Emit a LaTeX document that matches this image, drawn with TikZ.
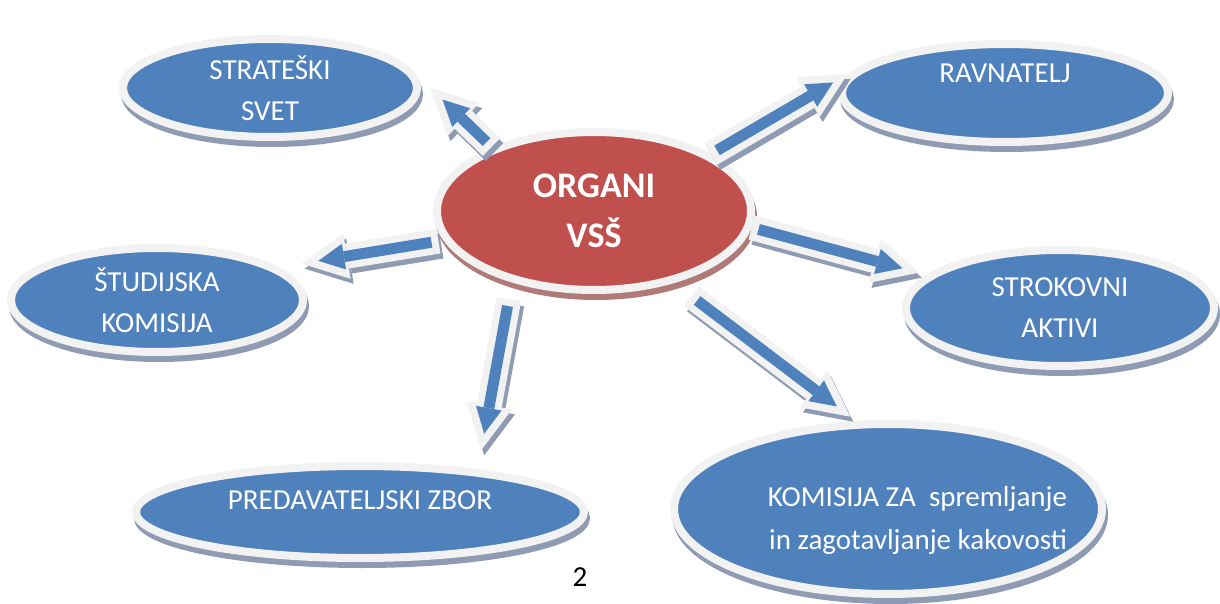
\documentclass[tikz,border=0pt]{standalone}
\usepackage{fontspec}
\setmainfont{Carlito}
\usepackage{tikz}
\usetikzlibrary{arrows.meta,shapes}
\definecolor{ovalblue}{HTML}{4F81BD}
\definecolor{ovalred}{HTML}{C0504D}
\definecolor{rimgray}{HTML}{F2F2F2}
\definecolor{shadeblue}{HTML}{8E9BB3}
\definecolor{shadered}{HTML}{B07A78}

\begin{document}
\begin{tikzpicture}[x=1pt,y=-1pt,
  basic/.style={ellipse,inner sep=0pt,draw=rimgray,line width=8pt,text=white,align=center},
  oval/.style={basic,fill=ovalblue,font=\fontsize{29}{41}\selectfont,
    preaction={fill=shadeblue,draw=shadeblue,transform canvas={shift={(2pt,-6pt)}}}},
  hub/.style={basic,fill=ovalred,font=\bfseries\fontsize{36}{50}\selectfont,
    preaction={fill=shadered,draw=shadered,transform canvas={shift={(2pt,-6pt)}}}},
  fat/.style 2 args={
    preaction={draw=shadeblue,line width=25pt,shorten <=#1,shorten >=#2,
      -{Triangle[length=46pt,width=46pt,line width=0pt]},transform canvas={shift={(3pt,-5pt)}}},
    preaction={draw=rimgray,line width=25pt,shorten <=#1,shorten >=#2,
      -{Triangle[length=46pt,width=46pt,line width=0pt]}},
    draw=ovalblue,line width=11pt,shorten <=#1+7pt,shorten >=#2+17pt,
    -{Triangle[length=26pt,width=26pt,line width=0pt]}}]

  \useasboundingbox (0,0) rectangle (1220,604);

  \node[hub] (org) at (594,211) [minimum width=314pt,minimum height=158pt] {ORGANI\\VSŠ};
  \node[oval] (stra) at (270,88) [minimum width=294pt,minimum height=98pt] {STRATEŠKI\\SVET};
  \node[oval] (rav) at (1005,93) [minimum width=326pt,minimum height=98pt,text depth=40pt] {RAVNATELJ};
  \node[oval] (stud) at (157,300) [minimum width=292pt,minimum height=104pt] {ŠTUDIJSKA\\KOMISIJA};
  \node[oval] (stro) at (1060,308) [minimum width=308pt,minimum height=116pt] {STROKOVNI\\AKTIVI};
  \node[oval] (pred) at (360,512) [minimum width=448pt,minimum height=92pt,text height=19pt,text depth=24pt] {PREDAVATELJSKI ZBOR};
  \node[oval] (kom) at (888,509) [minimum width=428pt,minimum height=170pt,font=\fontsize{29}{43}\selectfont,
    text width=358pt,align=flush right,inner xsep=-50pt,text depth=26pt] {KOMISIJA ZA\ \ spremljanje\\in zagotavljanje kakovosti};
  \node (pg) at (580,577) [font=\fontsize{29}{35}\selectfont] {2};

  \path
    (org.148) edge[fat={0pt}{28pt}] (stra.8)
    (org.26)  edge[fat={0pt}{13pt}] (rav.170)
    (org.191) edge[fat={5pt}{23pt}] (stud.15)
    (org.221) edge[fat={17pt}{19pt}] (pred.20)
    (org.354) edge[fat={0pt}{8pt}] (stro.166)
    (org.318) edge[fat={22pt}{7pt}] (kom.110);

\end{tikzpicture}
\end{document}
